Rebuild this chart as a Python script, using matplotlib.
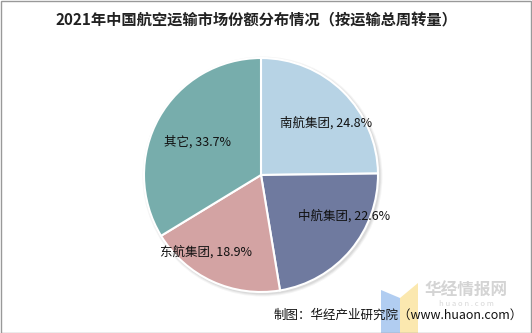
import matplotlib
matplotlib.use("Agg")
import matplotlib.pyplot as plt
from matplotlib.patches import Rectangle, Polygon

plt.rcParams['font.family'] = ['Noto Sans CJK SC', 'DejaVu Sans']

categories = ["南航集团", "中航集团", "东航集团", "其它"]
values = [24.8, 22.6, 18.9, 33.7]
colors = ["#b7d3e5", "#6f7a9f", "#d3a3a3", "#77adac"]
title = "2021年中国航空运输市场份额分布情况（按运输总周转量）"
source = "制图：华经产业研究院（www.huaon.com）"

W, H = 532, 333
fig = plt.figure(figsize=(W / 100, H / 100), dpi=100)
ax = fig.add_axes([0, 0, 1, 1])
ax.set_xlim(0, W)
ax.set_ylim(0, H)
ax.set_aspect('equal')
ax.axis('off')

cx, cy, r = 261, H - 175, 117

# soft shadow
for i, a in enumerate([0.06, 0.05, 0.04]):
    ax.add_patch(plt.Circle((cx + 1.5, cy - 1.5), r + 1 + i, color='#000000', alpha=a, lw=0, zorder=0))

labels = [f"{c}, {v}%" for c, v in zip(categories, values)]
wedges, texts = ax.pie(values, colors=colors, startangle=90, counterclock=False,
                       center=(cx, cy), radius=r, labels=labels, labeldistance=0.72,
                       wedgeprops=dict(edgecolor='white', linewidth=1.5),
                       textprops=dict(fontsize=9, color='#111111', ha='center', va='center'))
offsets = [(6, -8), (18, 13), (-20, 0), (10, -8)]
for t, (dx, dy) in zip(texts, offsets):
    x, y = t.get_position()
    t.set_position((x + dx, y + dy))
    t.set_ha('center')
ax.set_xlim(0, W)
ax.set_ylim(0, H)

ax.text(256, H - 19, title, fontsize=11, fontweight='bold', ha='center', va='center', color='#222222')

# watermark logo
ax.add_patch(Polygon([(381, H - 290), (400, H - 298), (400, H - 333), (381, H - 333)],
                     closed=True, color='#a9c8f0', alpha=0.9, lw=0))
ax.add_patch(Polygon([(400, H - 298), (418, H - 283), (418, H - 333), (400, H - 333)],
                     closed=True, color='#fbe6a6', alpha=0.9, lw=0))
ax.text(466, H - 291, "华经情报网", fontsize=12, fontweight='bold', ha='center', va='center', color='#d4d4d4')
ax.text(466, H - 304, "h u a o n . c o m", fontsize=5.5, ha='center', va='center', color='#d8d8d8')

ax.text(523, H - 315, source, fontsize=9, ha='right', va='center', color='#111111')

fig.add_artist(Rectangle((0.5 / W, 0.5 / H), 1 - 1.5 / W, 1 - 1.5 / H, transform=fig.transFigure,
                         fill=False, edgecolor='#999999', linewidth=1))

fig.savefig("out.png", dpi=100)
